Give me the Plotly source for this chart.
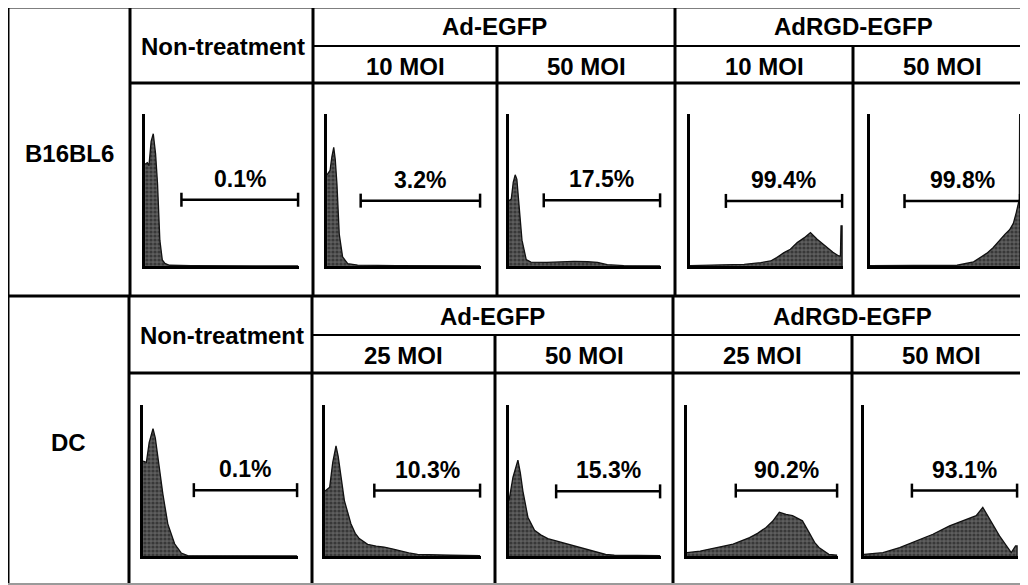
import plotly.graph_objects as go

# page body has an 8px margin; the figure is sized so it exactly fills the window
OFF = 8
W, H = 1028 - OFF, 585 - OFF

# ---------------- data ----------------
ROW_LABELS = ["B16BL6", "DC"]
GROUP_LABELS = ["Non-treatment", "Ad-EGFP", "AdRGD-EGFP"]
DOSES_B16 = ["10 MOI", "50 MOI", "10 MOI", "50 MOI"]
DOSES_DC = ["25 MOI", "50 MOI", "25 MOI", "50 MOI"]
PERCENT_B16 = ["0.1%", "3.2%", "17.5%", "99.4%", "99.8%"]
PERCENT_DC = ["0.1%", "10.3%", "15.3%", "90.2%", "93.1%"]
GATE_START_B16 = [23.8, 22.0, 23.0, 23.6, 23.0]
GATE_START_DC = [33.0, 31.8, 31.2, 32.5, 31.3]
GATE_END = 100
GATE_LEVEL_B16 = [43.6, 43.0, 43.2, 42.8, 42.7]
GATE_LEVEL_DC = [43.6, 43.3, 42.8, 43.3, 43.3]

# histograms (x = relative fluorescence channel 0-100, y = relative count 0-100)
B16_NT_X = [0, 1.5, 2.6, 4.0, 5.4, 6.9, 8.2, 9.7, 11.3, 13.0, 16.0, 30.0, 100]
B16_NT_Y = [67, 68, 66, 82, 87, 74, 54, 17, 4, 1.7, 0.5, 0.2, 0]
B16_AD10_X = [0, 2.0, 3.2, 4.4, 5.4, 6.5, 8.0, 10.2, 13.5, 20.0, 45.0, 100]
B16_AD10_Y = [60, 63, 72, 78, 70, 54, 21, 6, 1.5, 0.6, 0.3, 0]
B16_AD50_X = [0, 1.5, 2.8, 4.1, 5.2, 6.4, 8.6, 11.4, 14.5, 25, 35, 43, 52, 58.6, 65, 76, 100]
B16_AD50_Y = [43, 44, 55, 60, 57, 43, 17, 4.2, 2.6, 2.4, 2.8, 3.0, 2.8, 2.4, 0.9, 0.3, 0]
B16_RGD10_X = [0, 20, 35.6, 46.5, 53, 57, 61.8, 66, 70.5, 75, 79.2, 83.6, 87, 90.2, 94, 97.8, 98.9, 99.3, 100, 100]
B16_RGD10_Y = [0.3, 0.5, 1.1, 2.2, 3.3, 5.5, 8.8, 11, 15.4, 18.5, 22, 17.6, 14.5, 12.1, 9, 6.6, 6.6, 26.4, 26.4, 0]
B16_RGD50_X = [0, 40, 58, 69, 77.7, 82, 86.4, 90, 93, 95.5, 97.4, 99.5, 99.7, 100, 100]
B16_RGD50_Y = [0.2, 0.3, 0.5, 2.7, 8.3, 12, 17.2, 21, 23.8, 28, 35, 44, 100, 100, 0]

DC_NT_X = [0, 2.2, 4.0, 6.5, 8.0, 9.7, 12.9, 16.1, 20.5, 24.8, 29, 100]
DC_NT_Y = [62.8, 62, 75, 84.3, 78, 65, 41, 21.3, 8.1, 2, 0.3, 0]
DC_AD25_X = [0, 3.0, 5.0, 7.1, 8.5, 9.9, 12.5, 16.7, 19.5, 22.1, 27.5, 33, 38.2, 44, 48.9, 54, 59.7, 70, 81, 100]
DC_AD25_Y = [43, 45.5, 62, 73, 66, 56.5, 36.7, 21.4, 15, 11.5, 7.7, 6.5, 5.9, 4.6, 3.3, 2, 1.1, 0.6, 0.5, 0.3]
DC_AD50_X = [0, 2.6, 5.9, 7.5, 9.2, 12.5, 16.9, 21, 25.7, 31, 36.7, 42, 47.7, 53, 58.7, 64, 69.7, 100]
DC_AD50_Y = [36.7, 52, 63.5, 55, 43, 25.7, 17, 14, 11.5, 10, 8.2, 7, 5.5, 3.8, 2, 1, 0.5, 0.3]
DC_RGD25_X = [0, 8.8, 19.8, 30.7, 41.7, 47, 52.7, 57, 61.5, 66, 70.3, 74, 76.9, 81.3, 85, 87.9, 94.5, 100]
DC_RGD25_Y = [2.2, 3.3, 5.6, 7.8, 12.2, 15, 18.9, 23, 28.9, 27.5, 26.7, 25, 23.3, 15.6, 9, 5.6, 1.1, 0.5]
DC_RGD50_X = [0, 12.4, 23.3, 34.2, 45, 55.9, 66.8, 73.3, 77.6, 80.9, 88.5, 96.2, 99, 100, 100]
DC_RGD50_Y = [1.1, 2.2, 5.6, 10, 14.4, 20, 24.4, 26.7, 32.2, 26.7, 13.3, 2.2, 6.7, 6.7, 0]

HIST_X = [[B16_NT_X, B16_AD10_X, B16_AD50_X, B16_RGD10_X, B16_RGD50_X],
          [DC_NT_X, DC_AD25_X, DC_AD50_X, DC_RGD25_X, DC_RGD50_X]]
HIST_Y = [[B16_NT_Y, B16_AD10_Y, B16_AD50_Y, B16_RGD10_Y, B16_RGD50_Y],
          [DC_NT_Y, DC_AD25_Y, DC_AD50_Y, DC_RGD25_Y, DC_RGD50_Y]]
PERCENTS = [PERCENT_B16, PERCENT_DC]
GATE_START = [GATE_START_B16, GATE_START_DC]
GATE_LEVEL = [GATE_LEVEL_B16, GATE_LEVEL_DC]
DOSES = [DOSES_B16, DOSES_DC]

# ---------------- layout helpers (window pixel -> paper) ----------------
def px(x):
    return (x - OFF) / W

def py(y):
    return 1 - (y - OFF) / H

FAMILY = "Liberation Sans, Arial, sans-serif"
HEAD_FONT = dict(family=FAMILY, size=24, color="black", weight="bold")
PCT_FONT = dict(family=FAMILY, size=23, color="black", weight="bold")

# panel pixel boxes in window coordinates
PANEL_X = [[(145, 299), (327, 481), (509, 661), (690, 843), (870, 1021)],
           [(143, 298), (325, 481), (509, 661), (687, 838), (864, 1018)]]
PANEL_Y = [(114, 266), (405, 556)]

fig = go.Figure()
layout = dict(width=W, height=H, margin=dict(l=0, r=0, t=0, b=0),
              paper_bgcolor="white", plot_bgcolor="rgba(0,0,0,0)", showlegend=False)
annotations = []
shapes = []

idx = 0
for r in range(2):
    for c in range(5):
        idx += 1
        xa = "x" if idx == 1 else f"x{idx}"
        ya = "y" if idx == 1 else f"y{idx}"
        xk = "xaxis" if idx == 1 else f"xaxis{idx}"
        yk = "yaxis" if idx == 1 else f"yaxis{idx}"
        (l, rr) = PANEL_X[r][c]
        (t, b) = PANEL_Y[r]
        layout[xk] = dict(domain=[px(l), px(rr)], range=[0, 100.6], showgrid=False, zeroline=False,
                          showticklabels=False, ticks="", showline=True, linecolor="black",
                          linewidth=2.5, anchor=ya, fixedrange=True)
        layout[yk] = dict(domain=[py(b), py(t)], range=[0, 100], showgrid=False, zeroline=False,
                          showticklabels=False, ticks="", showline=True, linecolor="black",
                          linewidth=2.5, anchor=xa, fixedrange=True)
        fig.add_trace(go.Scatter(
            x=HIST_X[r][c], y=HIST_Y[r][c], mode="lines", fill="tozeroy",
            line=dict(color="#111111", width=1.3),
            fillcolor="#4a4a4a",
            fillpattern=dict(shape=".", bgcolor="#5e5e5e", fgcolor="#111111", size=4, solidity=0.5),
            xaxis=xa, yaxis=ya, hoverinfo="skip"))
        g0 = GATE_START[r][c]
        lvl = GATE_LEVEL[r][c]
        fig.add_trace(go.Scatter(
            x=[g0, GATE_END], y=[lvl, lvl], mode="lines+markers",
            line=dict(color="black", width=2.5),
            marker=dict(symbol="line-ns", size=10, color="black", line=dict(width=2.5, color="black")),
            cliponaxis=False, xaxis=xa, yaxis=ya, hoverinfo="skip"))
        annotations.append(dict(text=PERCENTS[r][c], x=(g0 + GATE_END) / 2, y=lvl,
                                xref=xa, yref=ya, yshift=21, showarrow=False, font=PCT_FONT,
                                xanchor="center", yanchor="middle"))

# ---------------- table ----------------
ROW_TOP = [7, 296]
ROW_BOT = [296, 584]
GROUP_LINE = [46, 335]
SUB_LINE = [83, 373]
VLINES = [[8, 130, 313, 497, 675, 853], [8, 129, 312, 495, 673, 852]]
RIGHT = 1035

def hline(y, x0, x1, w=3, color="black"):
    shapes.append(dict(type="line", xref="paper", yref="paper", x0=px(x0), x1=px(x1),
                       y0=py(y), y1=py(y), line=dict(color=color, width=w)))

def vline(x, y0, y1, w=3):
    shapes.append(dict(type="line", xref="paper", yref="paper", x0=px(x), x1=px(x),
                       y0=py(y0), y1=py(y1), line=dict(color="black", width=w)))

for r in range(2):
    top, bot, gl, sl = ROW_TOP[r], ROW_BOT[r], GROUP_LINE[r], SUB_LINE[r]
    v = VLINES[r]
    hline(top, v[0], RIGHT)
    hline(gl, v[2], RIGHT, w=2)
    hline(sl, v[1], RIGHT)
    for j, x in enumerate(v):
        y0 = gl if j in (3, 5) else top
        vline(x, y0, bot)
hline(584, 8, RIGHT, w=2, color="#9a9a9a")

def add_text(text, x, y):
    annotations.append(dict(text=text, x=px(x), y=py(y), xref="paper", yref="paper",
                            showarrow=False, font=HEAD_FONT, xanchor="center", yanchor="middle"))

for r in range(2):
    off = ROW_TOP[r] - 7
    v = VLINES[r]
    add_text(ROW_LABELS[r], (v[0] + v[1]) / 2, 153 + off)
    add_text(GROUP_LABELS[0], (v[1] + v[2]) / 2 + 1, 46 + off)
    add_text(GROUP_LABELS[1], (v[2] + v[4]) / 2, 27 + off)
    add_text(GROUP_LABELS[2], (v[4] + RIGHT - 4) / 2, 27 + off)
    bounds = [v[2], v[3], v[4], v[5], RIGHT - 4]
    for k in range(4):
        add_text(DOSES[r][k], (bounds[k] + bounds[k + 1]) / 2, 66 + off)

layout["annotations"] = annotations
layout["shapes"] = shapes
fig.update_layout(**layout)
fig.write_html("out.html")
